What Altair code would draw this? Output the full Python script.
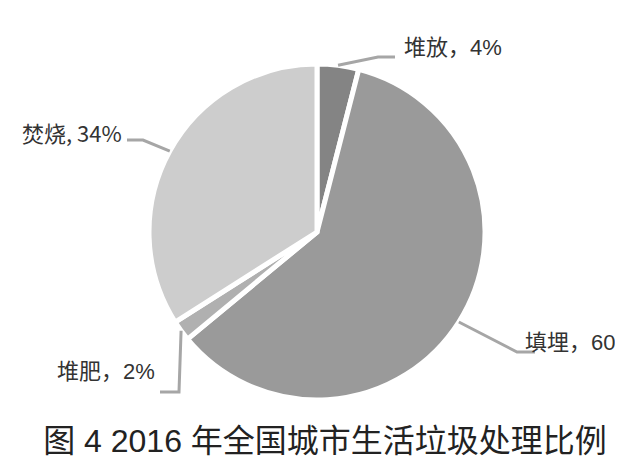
import altair as alt
import pandas as pd
import numpy as np

# ---- data ----
categories = ["堆放", "填埋", "堆肥", "焚烧"]
shares = [4, 60, 2, 34]
label_texts = ["堆放，4%", "填埋，60%", "堆肥，2%", "焚烧, 34%"]
title_text = "图 4  2016 年全国城市生活垃圾处理比例"

# ---- style ----
slice_colors = ["#848484", "#9a9a9a", "#b0b0b0", "#cdcdcd"]
FONT = "Liberation Sans, Noto Sans CJK SC"
NARROW_FONT = "Liberation Sans Narrow, Noto Sans CJK SC"
TEXT_COLOR = "#333333"
LEADER_COLOR = "#a6a6a6"

# ---- layout (page pixel coordinates) ----
W, H = 607, 458
CX, CY, R = 317, 232, 168
LEADER_R = 168
elbow_x = [378, 517, 179, 143]
elbow_y = [57, 352, 392, 140]
end_x = [395, 535, 160, 127]
end_y = [57, 352, 392, 140]
label_x = [404, 525, 57, 22]
label_y = [48, 343, 372, 135]
label_font = [FONT, FONT, FONT, NARROW_FONT]
TITLE_X, TITLE_Y, TITLE_SIZE = 325, 442, 32

xs = alt.Scale(domain=[8, 8 + W], nice=False, zero=False)
ys = alt.Scale(domain=[8, 8 + H], nice=False, zero=False, reverse=True)

pie_df = pd.DataFrame({"category": categories, "share": shares, "idx": range(len(categories))})

# leader line start points: mid-angle of each slice on the pie rim
total = float(sum(shares))
cum = np.cumsum([0] + shares)
mid = [(cum[i] + cum[i + 1]) / 2 / total * 2 * np.pi for i in range(len(shares))]
rows = []
for i, c in enumerate(categories):
    sx = CX + LEADER_R * np.sin(mid[i])
    sy = CY - LEADER_R * np.cos(mid[i])
    rows.append({"category": c, "step": 0, "x": sx, "y": sy})
    rows.append({"category": c, "step": 1, "x": elbow_x[i], "y": elbow_y[i]})
    rows.append({"category": c, "step": 2, "x": end_x[i], "y": end_y[i]})
line_df = pd.DataFrame(rows)

label_df = pd.DataFrame({"text": label_texts, "x": label_x, "y": label_y, "font": label_font})
title_df = pd.DataFrame({"text": [title_text], "x": [TITLE_X], "y": [TITLE_Y]})

pie = alt.Chart(pie_df).mark_arc(
    outerRadius=R, stroke="white", strokeWidth=5
).encode(
    theta=alt.Theta("share:Q", stack=True),
    order=alt.Order("idx:Q"),
    color=alt.Color("category:N", scale=alt.Scale(domain=categories, range=slice_colors), legend=None),
    x=alt.XDatum(CX, type="quantitative", scale=xs, axis=None),
    y=alt.YDatum(CY, type="quantitative", scale=ys, axis=None),
)

leaders = alt.Chart(line_df).mark_line(
    color=LEADER_COLOR, strokeWidth=3, strokeJoin="miter"
).encode(
    x=alt.X("x:Q", scale=xs, axis=None),
    y=alt.Y("y:Q", scale=ys, axis=None),
    detail="category:N",
    order="step:Q",
)

label_layers = []
for fnt in [FONT, NARROW_FONT]:
    label_layers.append(
        alt.Chart(label_df).transform_filter(alt.datum.font == fnt).mark_text(
            align="left", baseline="middle", font=fnt, fontSize=22, color=TEXT_COLOR
        ).encode(
            x=alt.X("x:Q", scale=xs, axis=None),
            y=alt.Y("y:Q", scale=ys, axis=None),
            text="text:N",
        )
    )

title = alt.Chart(title_df).mark_text(
    align="center", baseline="middle", font=FONT, fontSize=TITLE_SIZE, color="#222222"
).encode(
    x=alt.X("x:Q", scale=xs, axis=None),
    y=alt.Y("y:Q", scale=ys, axis=None),
    text="text:N",
)

chart = alt.layer(pie, leaders, *label_layers, title).properties(
    width=W, height=H, padding=0, autosize=alt.AutoSizeParams(type="none")
).configure_view(stroke=None)

chart.save("out.html", embed_options={"renderer": "svg", "actions": False})
